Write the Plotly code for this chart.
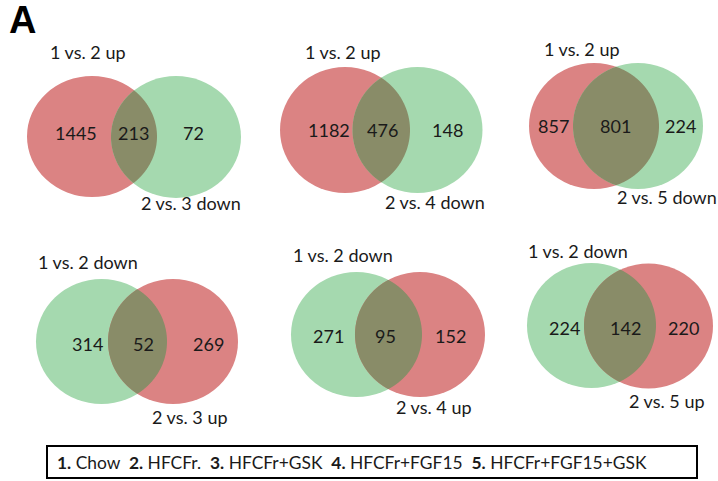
import numpy as np
import plotly.graph_objects as go

# ---- data ----
left_only = [1445, 1182, 857, 314, 271, 224]
overlap = [213, 476, 801, 52, 95, 142]
right_only = [72, 148, 224, 269, 152, 220]
left_names = ["1 vs. 2 up", "1 vs. 2 up", "1 vs. 2 up",
              "1 vs. 2 down", "1 vs. 2 down", "1 vs. 2 down"]
right_names = ["2 vs. 3 down", "2 vs. 4 down", "2 vs. 5 down",
               "2 vs. 3 up", "2 vs. 4 up", "2 vs. 5 up"]
left_is_up = [True, True, True, False, False, False]
group_ids = ["1.", "2.", "3.", "4.", "5."]
group_names = ["Chow", "HFCFr.", "HFCFr+GSK", "HFCFr+FGF15", "HFCFr+FGF15+GSK"]
panel_letter = "A"

# ---- layout (pixel geometry, not data) ----
W, H = 718, 481
geom = [
    dict(L=(92, 136.5, 65, 60.5), R=(176, 137, 65, 61), ty=133, lt=(88, 52), rt=(191, 203), nx=(76, 133, 193)),
    dict(L=(345, 130, 65, 63), R=(417.5, 130, 65, 63), ty=130, lt=(343, 52), rt=(435, 202), nx=(329, 382, 447)),
    dict(L=(594, 126, 65, 63), R=(638, 126, 65, 63), ty=126, lt=(582, 49), rt=(667, 197), nx=(553, 615, 680)),
    dict(L=(101.5, 341.5, 65.5, 62.5), R=(173, 341.5, 65, 62.5), ty=344, lt=(87.5, 262), rt=(190, 417), nx=(87, 143, 208)),
    dict(L=(356.5, 334.5, 65.5, 62.5), R=(420, 334.5, 65, 62.5), ty=336, lt=(343, 255), rt=(434, 407), nx=(328, 385, 450)),
    dict(L=(591.5, 325.5, 64.5, 62.5), R=(648.5, 326, 64.5, 62.5), ty=328, lt=(578, 251), rt=(667, 401), nx=(564, 625, 683)),
]
RED = "rgb(219,131,131)"
GREEN = "rgb(165,217,175)"
MIX = "rgb(137,140,104)"
FONT = "Lato"
TXT = "#1a1a1a"


def inside(x, y, e):
    cx, cy, rx, ry = e
    return ((x - cx) / rx) ** 2 + ((y - cy) / ry) ** 2 <= 1.0


def lens_path(A, B):
    t = np.linspace(-np.pi, np.pi, 1441)
    ax = A[0] + A[2] * np.cos(t)
    ay = A[1] + A[3] * np.sin(t)
    ka = inside(ax, ay, B)
    t2 = np.linspace(0, 2 * np.pi, 1441)
    bx = B[0] + B[2] * np.cos(t2)
    by = B[1] + B[3] * np.sin(t2)
    kb = inside(bx, by, A)
    xs = np.concatenate([ax[ka], bx[kb]])
    ys = np.concatenate([ay[ka], by[kb]])
    return "M " + " L ".join(f"{x:.2f},{y:.2f}" for x, y in zip(xs, ys)) + " Z"


fig = go.Figure()
shapes = []
ann = []
for i, g in enumerate(geom):
    lc = RED if left_is_up[i] else GREEN
    rc = GREEN if left_is_up[i] else RED
    for e, c in ((g["L"], lc), (g["R"], rc)):
        cx, cy, rx, ry = e
        shapes.append(dict(type="circle", xref="x", yref="y", x0=cx - rx, x1=cx + rx,
                           y0=cy - ry, y1=cy + ry, fillcolor=c, line=dict(width=0)))
    shapes.append(dict(type="path", xref="x", yref="y", path=lens_path(g["L"], g["R"]),
                       fillcolor=MIX, line=dict(width=0)))
    for x, v in zip(g["nx"], (left_only[i], overlap[i], right_only[i])):
        ann.append(dict(x=x, y=g["ty"], text=str(v), showarrow=False, xref="x", yref="y",
                        font=dict(family=FONT, size=18, color=TXT)))
    ann.append(dict(x=g["lt"][0], y=g["lt"][1], text=left_names[i], showarrow=False,
                    xref="x", yref="y", font=dict(family=FONT, size=18, color=TXT)))
    ann.append(dict(x=g["rt"][0], y=g["rt"][1], text=right_names[i], showarrow=False,
                    xref="x", yref="y", font=dict(family=FONT, size=18, color=TXT)))

# panel letter
ann.append(dict(x=7, y=20, text=f"<b>{panel_letter}</b>", showarrow=False, xref="x", yref="y",
                xanchor="left", font=dict(family="Liberation Sans", size=38, color="black")))

# legend box
shapes.append(dict(type="rect", xref="x", yref="y", x0=47, x1=697, y0=446, y1=478,
                   line=dict(color="black", width=2), fillcolor="rgba(0,0,0,0)"))
legend_text = "\u00a0\u00a0".join(f"<b>{a}</b>\u00a0{b}" for a, b in zip(group_ids, group_names))
ann.append(dict(x=55, y=462, text=legend_text, showarrow=False, xref="x", yref="y",
                xanchor="left", font=dict(family=FONT, size=17.4, color=TXT)))

fig.update_layout(
    width=W, height=H, margin=dict(l=0, r=0, t=0, b=0),
    paper_bgcolor="white", plot_bgcolor="white",
    xaxis=dict(range=[0, W], visible=False, fixedrange=True),
    yaxis=dict(range=[H, 0], visible=False, fixedrange=True),
    shapes=shapes, annotations=ann, showlegend=False,
)
fig.write_html("out.html", config=dict(displayModeBar=False),
               post_script="document.body.style.margin='0px';document.body.style.overflow='hidden';")
